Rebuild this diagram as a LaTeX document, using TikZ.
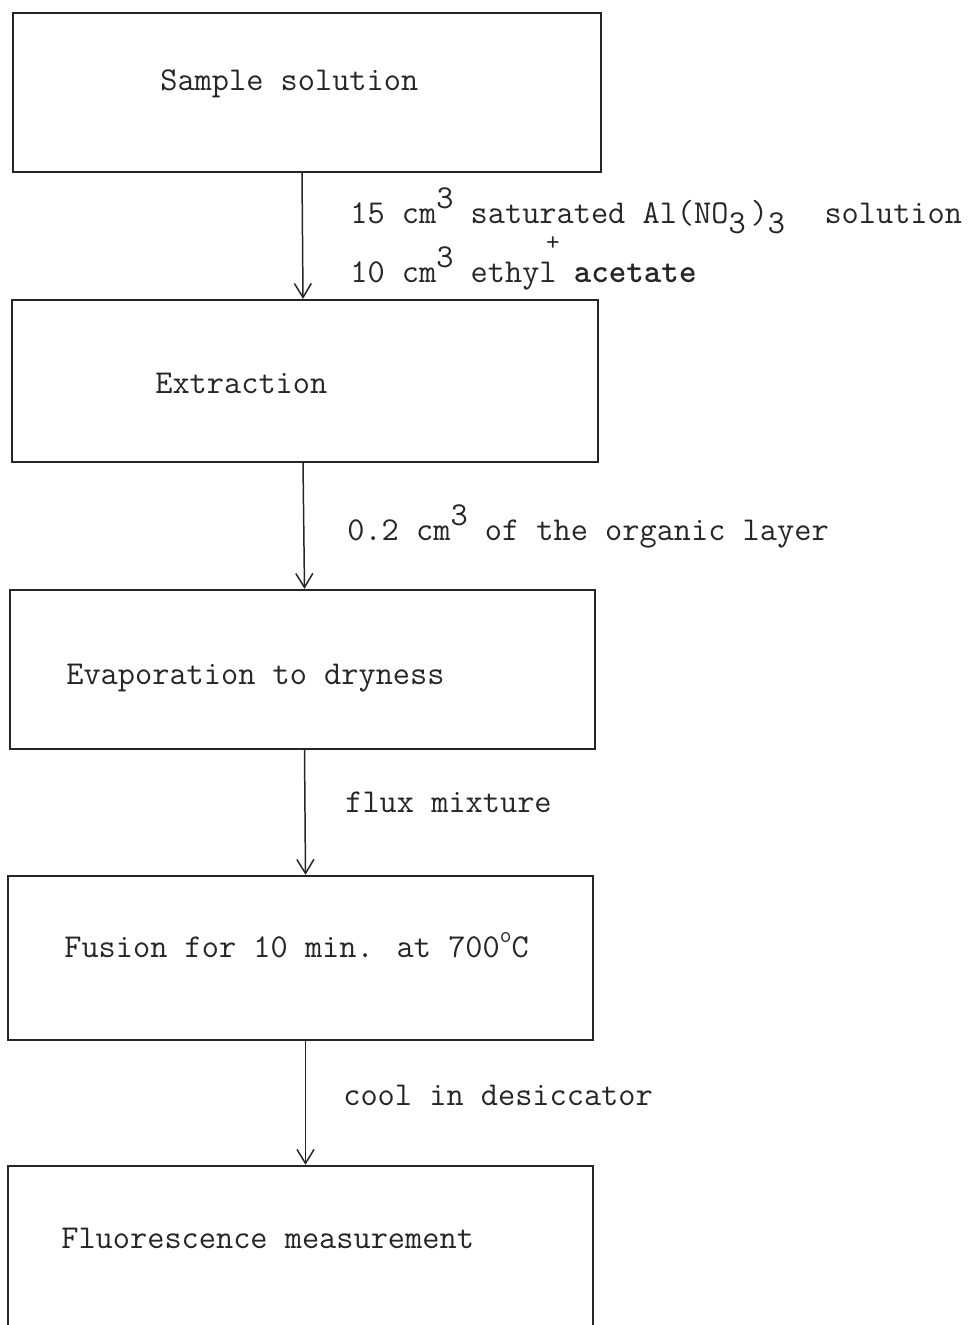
\documentclass[tikz,border=0pt]{standalone}
\usetikzlibrary{positioning, fit, calc, arrows.meta}

% raised / lowered typewriter figures
\newcommand{\typup}[1]{\raisebox{1.0ex}{#1}}
\newcommand{\typdn}[1]{\raisebox{-0.75ex}[\height][0pt]{#1}}

\begin{document}
\begin{tikzpicture}[
		x=0.02cm, y=-0.02cm,
		font=\ttfamily\fontsize{19}{23}\selectfont,
		% Style for the process boxes
		stepbox/.style={draw=black!85, line width=1.3pt, inner sep=0pt},
		% Texts inside the boxes and beside the arrows
		boxtext/.style={anchor=base west, inner sep=0pt, text=black!85},
		addtext/.style={anchor=base west, inner sep=0pt, text=black!85},
		% Arrows between the steps
		flow/.style={-{Straight Barb[length=0.28cm, width=0.34cm]}, line width=0.85pt, draw=black!85}
		]
		
		\useasboundingbox (0,0) rectangle (970,1325);
		\clip (0,0) rectangle (970,1325);
		
		% ==============================================================================
		% PROCESS BOXES
		% ==============================================================================
		\node[stepbox, fit={(13,13) (601,172)}] (sample) {};
		\node[stepbox, fit={(12,300) (598,462)}] (extract) {};
		\node[stepbox, fit={(10,590) (595,749)}] (evap) {};
		\node[stepbox, fit={(8,876) (593,1040)}] (fusion) {};
		\node[stepbox, fit={(8,1166) (593,1380)}] (fluor) {};
		
		% --- Box texts ---
		\node[boxtext] (sampleTxt) at (160,90) {Sample solution};
		\node[boxtext] (extractTxt) at (155,393) {Extraction};
		\node[boxtext] (evapTxt) at (66,684) {Evaporation to dryness};
		\node[boxtext] (fusionTxt) at (64,957) {Fusion for 10 min. at 700\typup{\fontsize{13}{13}\selectfont o}C};
		\node[boxtext] (fluorTxt) at (61,1248) {Fluorescence measurement};
		
		% ==============================================================================
		% ARROWS AND ADDITIONS
		% ==============================================================================
		\draw[flow] ([xshift=-0.1cm]sample.south) -- ([xshift=-0.04cm]extract.north);
		\draw[flow] ([xshift=-0.04cm]extract.south) -- ([xshift=0.04cm]evap.north);
		\draw[flow] ([xshift=0.04cm]evap.south) -- ([xshift=0.1cm]fusion.north);
		\draw[flow] ([xshift=0.1cm]fusion.south) -- ([xshift=0.1cm]fluor.north);
		
		\node[addtext] (addA) at (350,223) {15 cm\typup{3} saturated Al(NO\typdn{3}\hspace{0.1cm})\typdn{3}\hspace{0.1cm}\ \ solution};
		\node[inner sep=0pt, text=black!85, font=\ttfamily\fontsize{15}{15}\selectfont] (addPlus) at (553,244) {+};
		\node[addtext] (addB) at (350,282) {10 cm\typup{3} ethyl\ \textbf{acetate}};
		\node[addtext] (addC) at (347,540) {0.2 cm\typup{3} of the organic layer};
		\node[addtext] (addD) at (345,812) {flux mixture};
		\node[addtext] (addE) at (343,1105) {cool in desiccator};
		
	\end{tikzpicture}
\end{document}
